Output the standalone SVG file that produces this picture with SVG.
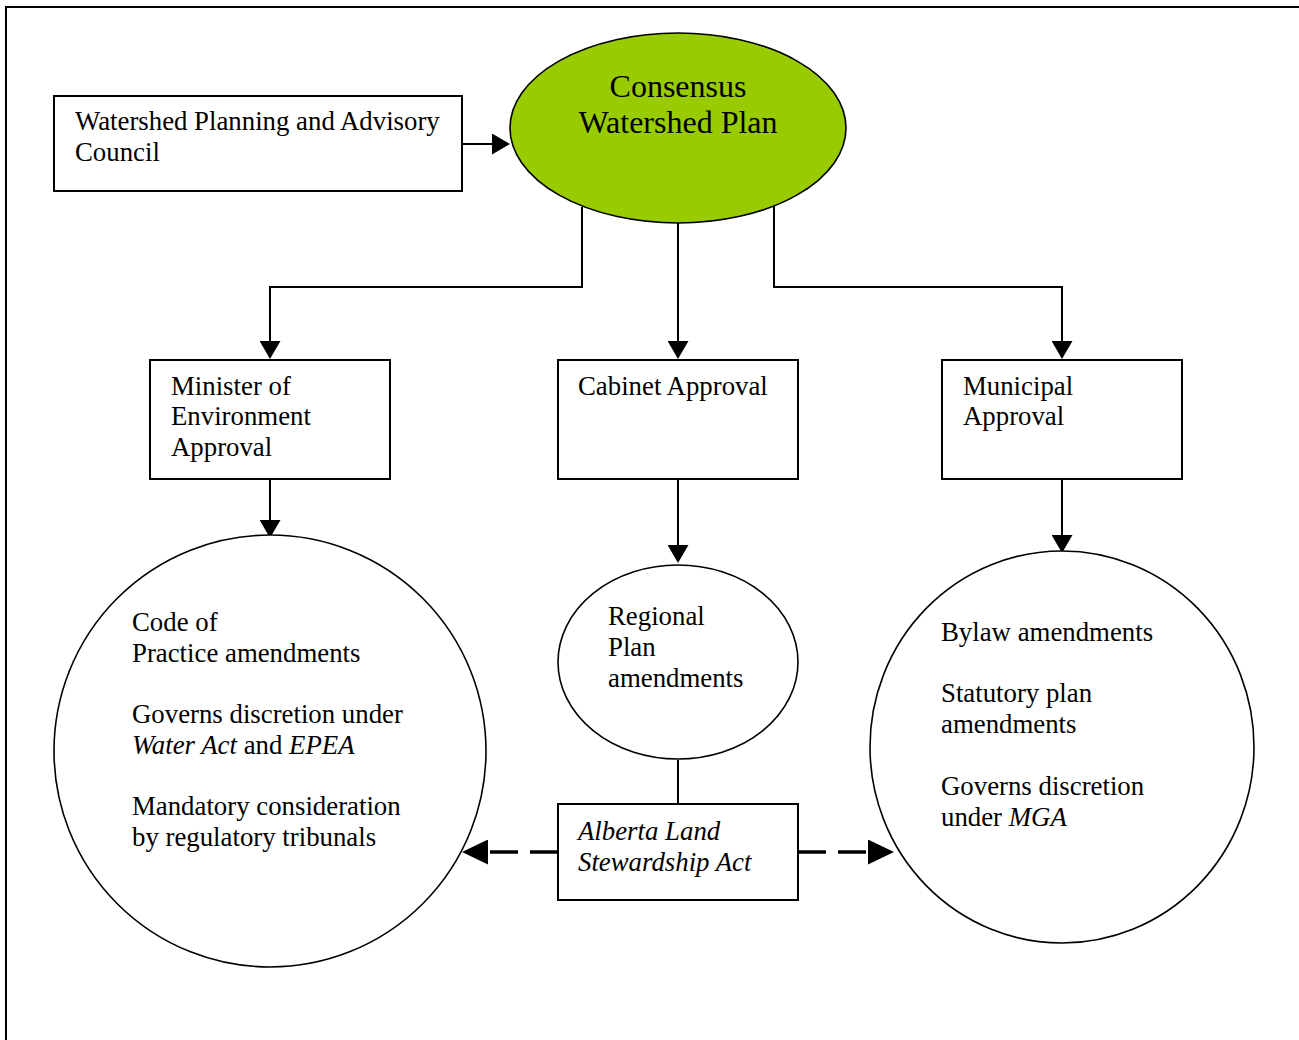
<svg xmlns="http://www.w3.org/2000/svg" width="1299" height="1040" viewBox="0 0 1299 1040">
<defs>
<style>
.box{fill:#fff;stroke:#000;stroke-width:2}
.shape{fill:#fff;stroke:#000;stroke-width:1.6}
.t{font-family:"Liberation Serif","Times New Roman",serif;font-size:26.8px;fill:#000}
.big{font-size:32px}
.i{font-style:italic}
.conn{fill:none;stroke:#000;stroke-width:2}
.dash{fill:none;stroke:#000;stroke-width:3.5;stroke-dasharray:28 12}
</style>
<marker id="ah" markerUnits="userSpaceOnUse" markerWidth="18" markerHeight="21" refX="0" refY="10.5" orient="auto">
<path d="M0,0 L18,10.5 L0,21 Z" fill="#000"/>
</marker>
<marker id="ahb" markerUnits="userSpaceOnUse" markerWidth="26" markerHeight="25" refX="0" refY="12.5" orient="auto">
<path d="M0,0 L26,12.5 L0,25 Z" fill="#000"/>
</marker>
</defs>
<rect x="0" y="0" width="1299" height="1040" fill="#fff"/>
<rect x="6" y="7" width="1400" height="1100" fill="none" stroke="#000" stroke-width="2"/>

<g id="connectors">
<path class="conn" d="M462,144 H492" marker-end="url(#ah)"/>
<path class="conn" d="M582,207 V287 H270 V341" marker-end="url(#ah)"/>
<path class="conn" d="M678,223 V341" marker-end="url(#ah)"/>
<path class="conn" d="M774,203 V287 H1062 V341" marker-end="url(#ah)"/>
<path class="conn" d="M270,479 V520" marker-end="url(#ah)"/>
<path class="conn" d="M678,479 V545" marker-end="url(#ah)"/>
<path class="conn" d="M1062,479 V535" marker-end="url(#ah)"/>
<path class="conn" d="M678,760 V804"/>
<path class="dash" d="M558,852 H488" marker-end="url(#ahb)"/>
<path class="dash" d="M798,852 H868" marker-end="url(#ahb)"/>
</g>

<g id="council">
<rect class="box" x="54" y="96" width="408" height="95"/>
<text class="t" x="75" y="130">Watershed Planning and Advisory</text>
<text class="t" x="75" y="161">Council</text>
</g>

<g id="consensus">
<ellipse cx="678" cy="128" rx="168" ry="95" fill="#99CC00" stroke="#000" stroke-width="1.6"/>
<text class="t big" x="678" y="97" text-anchor="middle">Consensus</text>
<text class="t big" x="678" y="133" text-anchor="middle">Watershed Plan</text>
</g>

<g id="minister">
<rect class="box" x="150" y="360" width="240" height="119"/>
<text class="t" x="171" y="395">Minister of</text>
<text class="t" x="171" y="425">Environment</text>
<text class="t" x="171" y="456">Approval</text>
</g>

<g id="cabinet">
<rect class="box" x="558" y="360" width="240" height="119"/>
<text class="t" x="578" y="395">Cabinet Approval</text>
</g>

<g id="municipal">
<rect class="box" x="942" y="360" width="240" height="119"/>
<text class="t" x="963" y="395">Municipal</text>
<text class="t" x="963" y="425">Approval</text>
</g>

<g id="code">
<ellipse class="shape" cx="270" cy="751" rx="216" ry="216"/>
<text class="t" x="132" y="631">Code of</text>
<text class="t" x="132" y="662">Practice amendments</text>
<text class="t" x="132" y="723">Governs discretion under</text>
<text class="t" x="132" y="754"><tspan class="i">Water Act</tspan> and <tspan class="i">EPEA</tspan></text>
<text class="t" x="132" y="815">Mandatory consideration</text>
<text class="t" x="132" y="846">by regulatory tribunals</text>
</g>

<g id="regional">
<ellipse class="shape" cx="678" cy="662" rx="120" ry="97"/>
<text class="t" x="608" y="625">Regional</text>
<text class="t" x="608" y="656">Plan</text>
<text class="t" x="608" y="687">amendments</text>
</g>

<g id="bylaw">
<ellipse class="shape" cx="1062" cy="747" rx="192" ry="196"/>
<text class="t" x="941" y="641">Bylaw amendments</text>
<text class="t" x="941" y="702">Statutory plan</text>
<text class="t" x="941" y="733">amendments</text>
<text class="t" x="941" y="795">Governs discretion</text>
<text class="t" x="941" y="826">under <tspan class="i">MGA</tspan></text>
</g>

<g id="alsa">
<rect class="box" x="558" y="804" width="240" height="96"/>
<text class="t i" x="578" y="840">Alberta Land</text>
<text class="t i" x="578" y="871">Stewardship Act</text>
</g>
</svg>
